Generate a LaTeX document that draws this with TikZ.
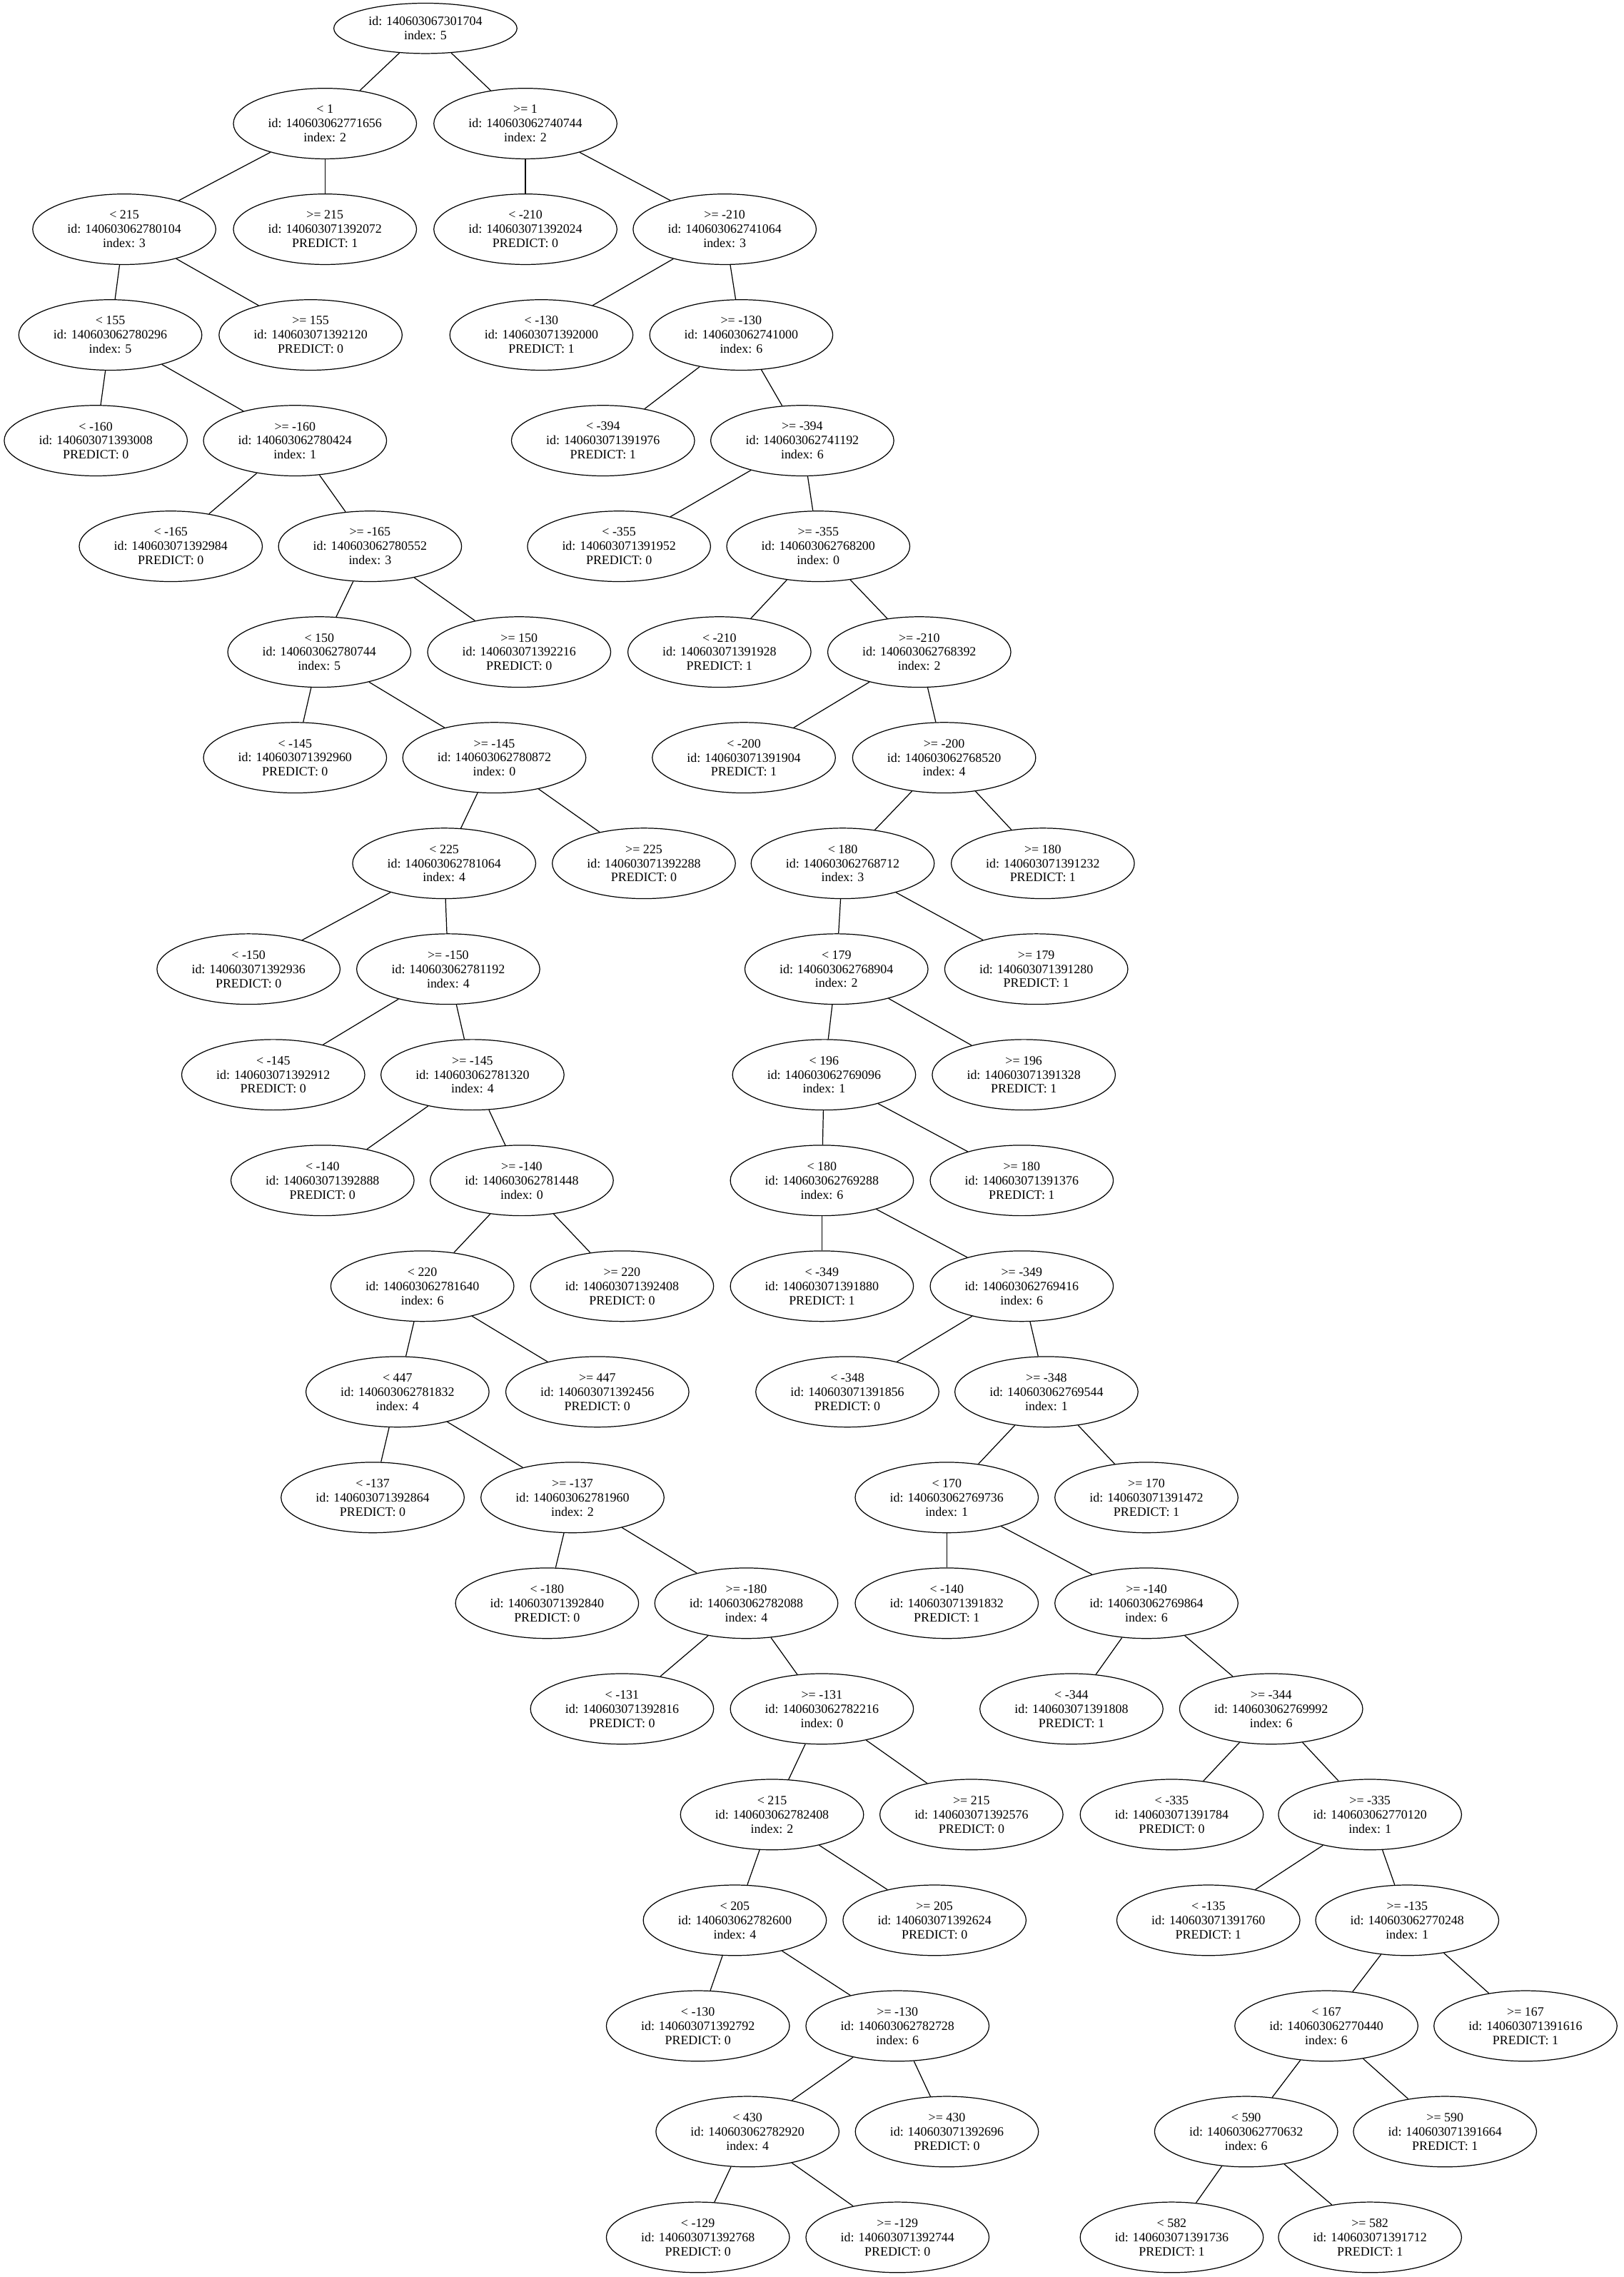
\documentclass[tikz,border=0pt]{standalone}
\usepackage{fontspec}
\setmainfont{Liberation Serif}
\usetikzlibrary{shapes.geometric}

\tikzstyle{treenode}=[ellipse,draw,line width=0.6pt,minimum width=126pt,minimum height=48.5pt,inner sep=0pt,align=center,font=\fontsize{8.8}{9.8}\selectfont]
\tikzstyle{edge} = [draw,line width=0.6pt,-]

\begin{document}
\begin{tikzpicture}[x=1pt,y=-1pt]
		\useasboundingbox (0,0) rectangle (1116.9,1566.3);
		% root
		\node[treenode,minimum height=34.6pt] (n0) at (292.7,19.5) {id: 140603067301704\\index: 5};
		% level 1
		\node[treenode] (n1a) at (223.6,85) {< 1\\id: 140603062771656\\index: 2};
		\node[treenode] (n1b) at (361.5,85) {>= 1\\id: 140603062740744\\index: 2};
		% level 2
		\node[treenode] (n2a) at (85.5,157.7) {< 215\\id: 140603062780104\\index: 3};
		\node[treenode] (n2b) at (223.6,157.7) {>= 215\\id: 140603071392072\\PREDICT: 1};
		\node[treenode] (n2c) at (361.5,157.7) {< -210\\id: 140603071392024\\PREDICT: 0};
		\node[treenode] (n2d) at (498.6,157.7) {>= -210\\id: 140603062741064\\index: 3};
		% level 3
		\node[treenode] (n3a) at (75.9,230.4) {< 155\\id: 140603062780296\\index: 5};
		\node[treenode] (n3b) at (213.7,230.4) {>= 155\\id: 140603071392120\\PREDICT: 0};
		\node[treenode] (n3c) at (372.5,230.4) {< -130\\id: 140603071392000\\PREDICT: 1};
		\node[treenode] (n3d) at (510,230.4) {>= -130\\id: 140603062741000\\index: 6};
		% level 4
		\node[treenode] (n4a) at (65.9,303.1) {< -160\\id: 140603071393008\\PREDICT: 0};
		\node[treenode] (n4b) at (203,303.1) {>= -160\\id: 140603062780424\\index: 1};
		\node[treenode] (n4c) at (414.9,303.1) {< -394\\id: 140603071391976\\PREDICT: 1};
		\node[treenode] (n4d) at (552,303.1) {>= -394\\id: 140603062741192\\index: 6};
		% level 5
		\node[treenode] (n5a) at (117.5,375.8) {< -165\\id: 140603071392984\\PREDICT: 0};
		\node[treenode] (n5b) at (254.6,375.8) {>= -165\\id: 140603062780552\\index: 3};
		\node[treenode] (n5c) at (425.9,375.8) {< -355\\id: 140603071391952\\PREDICT: 0};
		\node[treenode] (n5d) at (563,375.8) {>= -355\\id: 140603062768200\\index: 0};
		% level 6
		\node[treenode] (n6a) at (219.7,448.5) {< 150\\id: 140603062780744\\index: 5};
		\node[treenode] (n6b) at (357.2,448.5) {>= 150\\id: 140603071392216\\PREDICT: 0};
		\node[treenode] (n6c) at (495,448.5) {< -210\\id: 140603071391928\\PREDICT: 1};
		\node[treenode] (n6d) at (632.5,448.5) {>= -210\\id: 140603062768392\\index: 2};
		% level 7
		\node[treenode] (n7a) at (203,521.2) {< -145\\id: 140603071392960\\PREDICT: 0};
		\node[treenode] (n7b) at (340.1,521.2) {>= -145\\id: 140603062780872\\index: 0};
		\node[treenode] (n7c) at (511.8,521.2) {< -200\\id: 140603071391904\\PREDICT: 1};
		\node[treenode] (n7d) at (649.6,521.2) {>= -200\\id: 140603062768520\\index: 4};
		% level 8
		\node[treenode] (n8a) at (305.6,593.9) {< 225\\id: 140603062781064\\index: 4};
		\node[treenode] (n8b) at (443,593.9) {>= 225\\id: 140603071392288\\PREDICT: 0};
		\node[treenode] (n8c) at (579.8,593.9) {< 180\\id: 140603062768712\\index: 3};
		\node[treenode] (n8d) at (717.5,593.9) {>= 180\\id: 140603071391232\\PREDICT: 1};
		% level 9
		\node[treenode] (n9a) at (171,666.6) {< -150\\id: 140603071392936\\PREDICT: 0};
		\node[treenode] (n9b) at (308.4,666.6) {>= -150\\id: 140603062781192\\index: 4};
		\node[treenode] (n9c) at (575.5,666.6) {< 179\\id: 140603062768904\\index: 2};
		\node[treenode] (n9d) at (713,666.6) {>= 179\\id: 140603071391280\\PREDICT: 1};
		% level 10
		\node[treenode] (n10a) at (188,739.3) {< -145\\id: 140603071392912\\PREDICT: 0};
		\node[treenode] (n10b) at (325.1,739.3) {>= -145\\id: 140603062781320\\index: 4};
		\node[treenode] (n10c) at (567,739.3) {< 196\\id: 140603062769096\\index: 1};
		\node[treenode] (n10d) at (704.4,739.3) {>= 196\\id: 140603071391328\\PREDICT: 1};
		% level 11
		\node[treenode] (n11a) at (221.9,812) {< -140\\id: 140603071392888\\PREDICT: 0};
		\node[treenode] (n11b) at (359,812) {>= -140\\id: 140603062781448\\index: 0};
		\node[treenode] (n11c) at (565.5,812) {< 180\\id: 140603062769288\\index: 6};
		\node[treenode] (n11d) at (703,812) {>= 180\\id: 140603071391376\\PREDICT: 1};
		% level 12
		\node[treenode] (n12a) at (290.6,884.7) {< 220\\id: 140603062781640\\index: 6};
		\node[treenode] (n12b) at (428,884.7) {>= 220\\id: 140603071392408\\PREDICT: 0};
		\node[treenode] (n12c) at (565.5,884.7) {< -349\\id: 140603071391880\\PREDICT: 1};
		\node[treenode] (n12d) at (703,884.7) {>= -349\\id: 140603062769416\\index: 6};
		% level 13
		\node[treenode] (n13a) at (273.5,957.4) {< 447\\id: 140603062781832\\index: 4};
		\node[treenode] (n13b) at (411,957.4) {>= 447\\id: 140603071392456\\PREDICT: 0};
		\node[treenode] (n13c) at (583,957.4) {< -348\\id: 140603071391856\\PREDICT: 0};
		\node[treenode] (n13d) at (720,957.4) {>= -348\\id: 140603062769544\\index: 1};
		% level 14
		\node[treenode] (n14a) at (256.4,1030.1) {< -137\\id: 140603071392864\\PREDICT: 0};
		\node[treenode] (n14b) at (393.9,1030.1) {>= -137\\id: 140603062781960\\index: 2};
		\node[treenode] (n14c) at (651.4,1030.1) {< 170\\id: 140603062769736\\index: 1};
		\node[treenode] (n14d) at (788.8,1030.1) {>= 170\\id: 140603071391472\\PREDICT: 1};
		% level 15
		\node[treenode] (n15a) at (376.4,1102.8) {< -180\\id: 140603071392840\\PREDICT: 0};
		\node[treenode] (n15b) at (513.5,1102.8) {>= -180\\id: 140603062782088\\index: 4};
		\node[treenode] (n15c) at (651.4,1102.8) {< -140\\id: 140603071391832\\PREDICT: 1};
		\node[treenode] (n15d) at (788.8,1102.8) {>= -140\\id: 140603062769864\\index: 6};
		% level 16
		\node[treenode] (n16a) at (428,1175.5) {< -131\\id: 140603071392816\\PREDICT: 0};
		\node[treenode] (n16b) at (565.5,1175.5) {>= -131\\id: 140603062782216\\index: 0};
		\node[treenode] (n16c) at (737.2,1175.5) {< -344\\id: 140603071391808\\PREDICT: 1};
		\node[treenode] (n16d) at (874.6,1175.5) {>= -344\\id: 140603062769992\\index: 6};
		% level 17
		\node[treenode] (n17a) at (531.2,1248.2) {< 215\\id: 140603062782408\\index: 2};
		\node[treenode] (n17b) at (668.4,1248.2) {>= 215\\id: 140603071392576\\PREDICT: 0};
		\node[treenode] (n17c) at (806.2,1248.2) {< -335\\id: 140603071391784\\PREDICT: 0};
		\node[treenode] (n17d) at (942.6,1248.2) {>= -335\\id: 140603062770120\\index: 1};
		% level 18
		\node[treenode] (n18a) at (505.6,1320.9) {< 205\\id: 140603062782600\\index: 4};
		\node[treenode] (n18b) at (643,1320.9) {>= 205\\id: 140603071392624\\PREDICT: 0};
		\node[treenode] (n18c) at (831.4,1320.9) {< -135\\id: 140603071391760\\PREDICT: 1};
		\node[treenode] (n18d) at (968.2,1320.9) {>= -135\\id: 140603062770248\\index: 1};
		% level 19
		\node[treenode] (n19a) at (480.2,1393.6) {< -130\\id: 140603071392792\\PREDICT: 0};
		\node[treenode] (n19b) at (617.5,1393.6) {>= -130\\id: 140603062782728\\index: 6};
		\node[treenode] (n19c) at (912.6,1393.6) {< 167\\id: 140603062770440\\index: 6};
		\node[treenode] (n19d) at (1049.6,1393.6) {>= 167\\id: 140603071391616\\PREDICT: 1};
		% level 20
		\node[treenode] (n20a) at (514.3,1466.3) {< 430\\id: 140603062782920\\index: 4};
		\node[treenode] (n20b) at (651.5,1466.3) {>= 430\\id: 140603071392696\\PREDICT: 0};
		\node[treenode] (n20c) at (857.4,1466.3) {< 590\\id: 140603062770632\\index: 6};
		\node[treenode] (n20d) at (994.2,1466.3) {>= 590\\id: 140603071391664\\PREDICT: 1};
		% level 21
		\node[treenode] (n21a) at (480.2,1539) {< -129\\id: 140603071392768\\PREDICT: 0};
		\node[treenode] (n21b) at (617.5,1539) {>= -129\\id: 140603071392744\\PREDICT: 0};
		\node[treenode] (n21c) at (806.2,1539) {< 582\\id: 140603071391736\\PREDICT: 1};
		\node[treenode] (n21d) at (942.6,1539) {>= 582\\id: 140603071391712\\PREDICT: 1};
		% Connect each split with its two children
		\foreach \source/ \dest in {n0/n1a, n0/n1b, n1a/n2a, n1a/n2b, n1b/n2c, n1b/n2d,
				n2a/n3a, n2a/n3b, n2d/n3c, n2d/n3d, n3a/n4a, n3a/n4b, n3d/n4c, n3d/n4d,
				n4b/n5a, n4b/n5b, n4d/n5c, n4d/n5d, n5b/n6a, n5b/n6b, n5d/n6c, n5d/n6d,
				n6a/n7a, n6a/n7b, n6d/n7c, n6d/n7d, n7b/n8a, n7b/n8b, n7d/n8c, n7d/n8d,
				n8a/n9a, n8a/n9b, n8c/n9c, n8c/n9d, n9b/n10a, n9b/n10b, n9c/n10c, n9c/n10d,
				n10b/n11a, n10b/n11b, n10c/n11c, n10c/n11d, n11b/n12a, n11b/n12b, n11c/n12c, n11c/n12d,
				n12a/n13a, n12a/n13b, n12d/n13c, n12d/n13d, n13a/n14a, n13a/n14b, n13d/n14c, n13d/n14d,
				n14b/n15a, n14b/n15b, n14c/n15c, n14c/n15d, n15b/n16a, n15b/n16b, n15d/n16c, n15d/n16d,
				n16b/n17a, n16b/n17b, n16d/n17c, n16d/n17d, n17a/n18a, n17a/n18b, n17d/n18c, n17d/n18d,
				n18a/n19a, n18a/n19b, n18d/n19c, n18d/n19d, n19b/n20a, n19b/n20b, n19c/n20c, n19c/n20d,
				n20a/n21a, n20a/n21b, n20c/n21c, n20c/n21d}
			\path[edge] (\source) -- (\dest);
\end{tikzpicture}
\end{document}
